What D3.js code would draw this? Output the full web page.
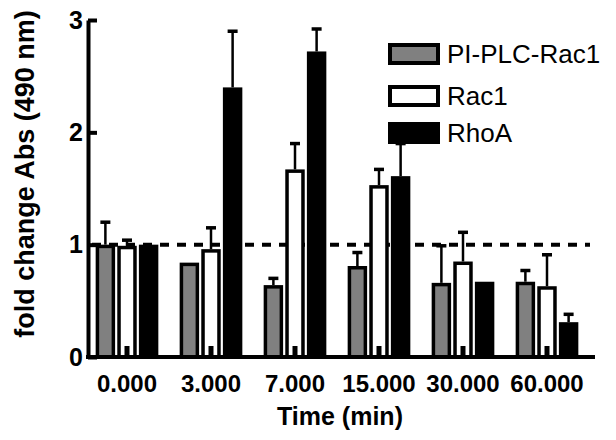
<!DOCTYPE html>
<html>
<head>
<meta charset="utf-8">
<script src="https://cdn.jsdelivr.net/npm/d3@7"></script>
<style>
  body { margin: 0; background: #fff; }
  svg { font-family: "Liberation Sans", Arial, sans-serif; }
</style>
</head>
<body>
<svg id="chart" width="616" height="440"></svg>
<script>
// ----- data -----
var times = ["0.000", "3.000", "7.000", "15.000", "30.000", "60.000"];
var seriesNames = ["PI-PLC-Rac1", "Rac1", "RhoA"];
var plcMean = [1.00, 0.84, 0.64, 0.81, 0.66, 0.67];
var plcErr  = [0.20, 0.00, 0.06, 0.12, 0.33, 0.10];
var racMean = [0.99, 0.96, 1.67, 1.53, 0.85, 0.63];
var racErr  = [0.05, 0.19, 0.23, 0.14, 0.26, 0.28];
var rhoMean = [1.00, 2.40, 2.72, 1.61, 0.67, 0.31];
var rhoErr  = [0.00, 0.50, 0.20, 0.29, 0.00, 0.07];
var yTicks = [0, 1, 2, 3];

var fills = ["#808080", "#ffffff", "#000000"];

// build rows
var rows = [];
times.forEach(function(t, i){
    rows.push({time: t, key: seriesNames[0], mean: plcMean[i], err: plcErr[i], s: 0});
    rows.push({time: t, key: seriesNames[1], mean: racMean[i], err: racErr[i], s: 1});
    rows.push({time: t, key: seriesNames[2], mean: rhoMean[i], err: rhoErr[i], s: 2});
});

var svg = d3.select('#chart');

// ----- scales -----
var x0 = d3.scaleBand()
    .domain(times)
    .range([85, 589])
    .padding(0);

var inner = 67;
var x1 = d3.scaleBand()
    .domain(seriesNames)
    .range([0, inner])
    .padding(0.1);

var y = d3.scaleLinear()
    .domain([0, 3])
    .range([357, 20]);

var xLeft = 88, xRight = 595;

function barX(d){
    return x0(d.time) + (x0.bandwidth() - inner) / 2 + x1(d.key);
}

// ----- reference line at 1 -----
svg.append('line')
    .attr('x1', xLeft + 4)
    .attr('x2', 590)
    .attr('y1', y(1))
    .attr('y2', y(1))
    .attr('stroke', '#000')
    .attr('stroke-width', 4)
    .attr('stroke-dasharray', '9,8');

// ----- error bars (upper only) -----
var eb = svg.append('g').attr('class', 'errbars');
rows.filter(d => d.err > 0).forEach(function(d){
    var cx = barX(d) + x1.bandwidth() / 2;
    eb.append('line')
        .attr('x1', cx).attr('x2', cx)
        .attr('y1', y(d.mean)).attr('y2', y(d.mean + d.err))
        .attr('stroke', '#000').attr('stroke-width', 2.5);
    eb.append('line')
        .attr('x1', cx - 5).attr('x2', cx + 5)
        .attr('y1', y(d.mean + d.err)).attr('y2', y(d.mean + d.err))
        .attr('stroke', '#000').attr('stroke-width', 3.5);
});

// ----- bars -----
var sw = 3.5;
svg.append('g').attr('class', 'bars')
    .selectAll('rect')
    .data(rows)
    .enter()
    .append('rect')
        .attr('x', d => barX(d) + sw / 2)
        .attr('width', x1.bandwidth() - sw)
        .attr('y', d => y(d.mean) + sw / 2)
        .attr('height', d => y(0) - y(d.mean) - sw / 2)
        .attr('fill', d => fills[d.s])
        .attr('stroke', '#000')
        .attr('stroke-width', sw);

// small stubs at the foot of the Rac1 bars
svg.append('g')
    .selectAll('rect')
    .data(rows.filter(d => d.s === 1))
    .enter()
    .append('rect')
        .attr('x', d => barX(d) + x1.bandwidth() / 2 - 2.5)
        .attr('width', 5)
        .attr('y', y(0) - 11)
        .attr('height', 11)
        .attr('fill', '#000');

// ----- axes -----
var yAxis = d3.axisLeft(y)
    .tickValues(yTicks)
    .tickFormat(d3.format('d'))
    .tickSize(-9)
    .tickSizeOuter(0)
    .tickPadding(6);

var gy = svg.append('g')
    .attr('transform', 'translate(' + xLeft + ',0)')
    .call(yAxis);
gy.select('.domain').attr('stroke-width', 4);
gy.selectAll('.tick line').attr('stroke-width', 4);
gy.selectAll('.tick text')
    .attr('x', -5)
    .style('font-size', '25px')
    .style('font-weight', 'bold')
    .attr('fill', '#000');

var xAxis = d3.axisBottom(x0)
    .tickSize(0)
    .tickSizeOuter(0)
    .tickPadding(0);

var gx = svg.append('g')
    .attr('transform', 'translate(0,' + y(0) + ')')
    .call(xAxis);
gx.select('.domain').remove();
gx.selectAll('.tick text')
    .attr('y', 35)
    .attr('dy', 0)
    .style('font-size', '24px')
    .style('font-weight', 'bold')
    .attr('fill', '#000');

svg.append('line')
    .attr('x1', xLeft - 2).attr('x2', xRight)
    .attr('y1', y(0)).attr('y2', y(0))
    .attr('stroke', '#000').attr('stroke-width', 4);

// ----- axis titles -----
svg.append('text')
    .text('Time (min)')
    .attr('x', 340)
    .attr('y', 425)
    .attr('text-anchor', 'middle')
    .style('font-size', '25px')
    .style('font-weight', 'bold');

svg.append('text')
    .text('fold change Abs (490 nm)')
    .attr('transform', 'translate(34,174) rotate(-90)')
    .attr('text-anchor', 'middle')
    .style('font-size', '27px')
    .style('font-weight', 'bold');

// ----- legend -----
var legend = svg.append('g').attr('transform', 'translate(388,43)');
var legRowY = [0, 42, 79];
seriesNames.forEach(function(name, i){
    var g = legend.append('g').attr('transform', 'translate(0,' + legRowY[i] + ')');
    g.append('rect')
        .attr('x', 2).attr('y', 2)
        .attr('width', 48).attr('height', 18)
        .attr('fill', fills[i])
        .attr('stroke', '#000')
        .attr('stroke-width', 4);
    g.append('text')
        .text(name)
        .attr('x', 59)
        .attr('y', 20)
        .style('font-size', '26px');
});
</script>
</body>
</html>
